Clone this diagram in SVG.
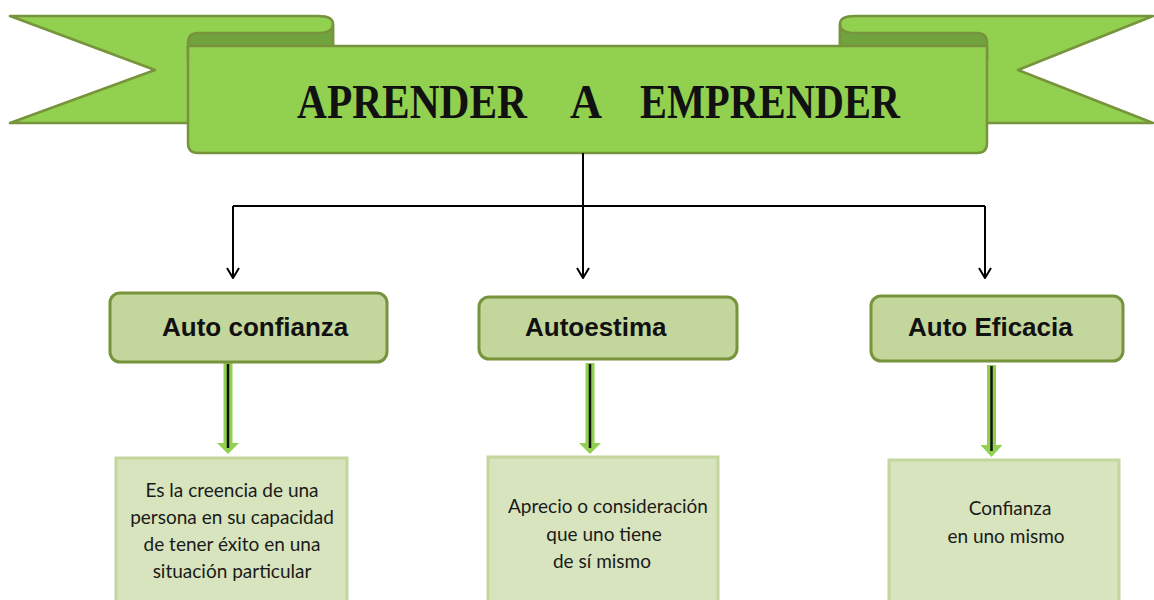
<svg xmlns="http://www.w3.org/2000/svg" width="1154" height="600" viewBox="0 0 1154 600">
<style>
.ban{fill:#92D050;stroke:#77933C;stroke-width:2.5;stroke-linejoin:round}
.curl{fill:#70A33D;stroke:#77933C;stroke-width:2.5;stroke-linejoin:round}
.title{font-family:"Liberation Serif",serif;font-weight:bold;font-size:48px;fill:#111}
.node{fill:#C3D69B;stroke:#77933C;stroke-width:3}
.ntext{font-family:"Liberation Sans",Arial,sans-serif;font-weight:bold;font-size:26px;fill:#111}
.box{fill:#D7E4BD;stroke:#C3D69B;stroke-width:3}
.btext{font-family:Lato,"Open Sans",sans-serif;font-size:19px;fill:#1a1a1a;text-anchor:middle}
.conn{fill:none;stroke:#000;stroke-width:2}
.gshaft{fill:#92D050}
.ghead{fill:#92D050}
.gline{stroke:#111;stroke-width:2.5}
</style>
<defs>
<marker id="vhead" viewBox="0 0 12 14" refX="11" refY="7" markerWidth="12" markerHeight="14" markerUnits="userSpaceOnUse" orient="auto">
<polyline points="1,1 11,7 1,13" fill="none" stroke="#000" stroke-width="2"/>
</marker>
</defs>
<g id="banner">
<path class="ban" d="M10,16 L318,16 Q333,16 333,24 L333,123 L10,123 L155,70 Z"/>
<path class="ban" d="M1153,16 L855,16 Q840,16 840,24 L840,123 L1153,123 L1018,70 Z"/>
<path class="curl" d="M333,24 Q333,33 318,33 L198,33 Q188,33 188,43 L188,60 L333,60 Z"/>
<path class="curl" d="M840,24 Q840,33 855,33 L977,33 Q987,33 987,43 L987,60 L840,60 Z"/>
<path class="ban" d="M188,46 L987,46 L987,143 Q987,153 977,153 L198,153 Q188,153 188,143 Z"/>
<text class="title" x="297" y="118" textLength="230" lengthAdjust="spacingAndGlyphs">APRENDER</text>
<text class="title" x="570" y="118" textLength="32" lengthAdjust="spacingAndGlyphs">A</text>
<text class="title" x="640" y="118" textLength="260" lengthAdjust="spacingAndGlyphs">EMPRENDER</text>
</g>
<g id="connectors">
<path class="conn" d="M583,153 L583,278" marker-end="url(#vhead)"/>
<path class="conn" d="M233,206 L985,206"/>
<path class="conn" d="M233,206 L233,278" marker-end="url(#vhead)"/>
<path class="conn" d="M985,206 L985,278" marker-end="url(#vhead)"/>
<g id="green-arrow-1">
<rect class="gshaft" x="223.5" y="363" width="9" height="82"/>
<polygon class="ghead" points="217,443 239,443 228,454"/>
<line class="gline" x1="228" y1="364" x2="228" y2="448"/>
</g>
<g id="green-arrow-2">
<rect class="gshaft" x="585.5" y="363" width="9" height="82"/>
<polygon class="ghead" points="579,443 601,443 590,454"/>
<line class="gline" x1="590" y1="364" x2="590" y2="448"/>
</g>
<g id="green-arrow-3">
<rect class="gshaft" x="987" y="365" width="9" height="82"/>
<polygon class="ghead" points="980.5,445 1002.5,445 991.5,457"/>
<line class="gline" x1="991.5" y1="366" x2="991.5" y2="451"/>
</g>
</g>
<g id="node-autoconfianza">
<rect class="node" x="110" y="293" width="277" height="69" rx="10"/>
<text class="ntext" x="162" y="336">Auto confianza</text>
</g>
<g id="node-autoestima">
<rect class="node" x="479" y="297" width="258" height="62" rx="10"/>
<text class="ntext" x="525" y="336">Autoestima</text>
</g>
<g id="node-autoeficacia">
<rect class="node" x="871" y="296" width="252" height="65" rx="10"/>
<text class="ntext" x="908" y="336">Auto Eficacia</text>
</g>
<g id="box-autoconfianza">
<rect class="box" x="116" y="458" width="231" height="150"/>
<text class="btext" x="232" y="497">Es la creencia de una</text>
<text class="btext" x="232" y="524">persona en su capacidad</text>
<text class="btext" x="232" y="551">de tener éxito en una</text>
<text class="btext" x="232" y="578">situación particular</text>
</g>
<g id="box-autoestima">
<rect class="box" x="488" y="457" width="230" height="150"/>
<text class="btext" x="608" y="513">Aprecio o consideración</text>
<text class="btext" x="604" y="541">que uno tiene</text>
<text class="btext" x="602" y="568">de sí mismo</text>
</g>
<g id="box-autoeficacia">
<rect class="box" x="889" y="460" width="230" height="150"/>
<text class="btext" x="1010" y="515">Confianza</text>
<text class="btext" x="1006" y="543">en uno mismo</text>
</g>
</svg>
